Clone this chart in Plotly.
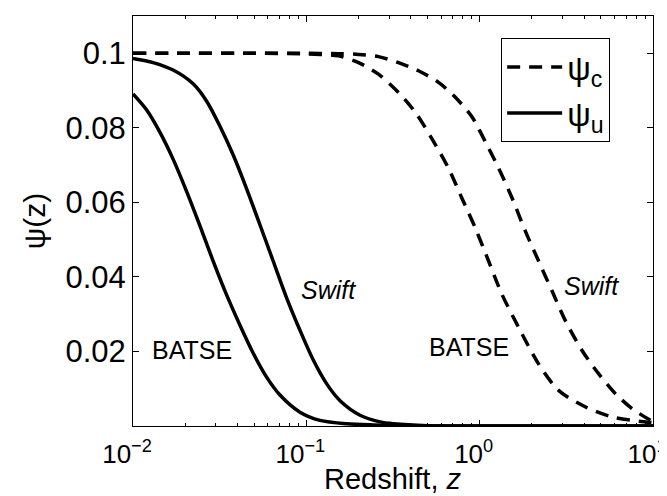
import math
import plotly.graph_objects as go

# ---- data ----
# psi_u (solid)
z_u_swift = [0.01, 0.01305, 0.01703, 0.02223, 0.02655, 0.0317, 0.03785, 0.04519, 0.05397, 0.06444,
             0.07694, 0.09188, 0.1097, 0.1311, 0.1565, 0.2042, 0.2666, 0.3186, 0.5, 1.0, 3.0, 10.0]
psi_u_swift = [0.0986, 0.0975, 0.0955, 0.0918, 0.0872, 0.0805, 0.0727, 0.0637, 0.0540, 0.0442,
               0.0344, 0.0257, 0.0177, 0.0113, 0.0068, 0.0029, 0.0011, 0.0006, 0.0001, 0.0, 0.0, 0.0]

z_u_batse = [0.01, 0.01194, 0.01426, 0.01703, 0.02032, 0.02425, 0.02896, 0.03458, 0.04136, 0.0494,
             0.05899, 0.07046, 0.0919, 0.1199, 0.1711, 0.244, 0.4, 1.0, 10.0]
psi_u_batse = [0.0891, 0.0849, 0.0789, 0.0716, 0.0631, 0.0539, 0.0443, 0.0353, 0.0271, 0.0195,
               0.0131, 0.0083, 0.0037, 0.0015, 0.0006, 0.0003, 0.0001, 0.0, 0.0]

# psi_c (dashed)
z_c_batse = [0.01, 0.02, 0.05, 0.1, 0.153, 0.2, 0.2606, 0.34, 0.425, 0.53, 0.662, 0.79, 0.944, 1.127,
             1.345, 1.68, 2.191, 2.862, 4.084, 5.82, 8.3, 10.0]
psi_c_batse = [0.1, 0.1, 0.1, 0.0998, 0.0993, 0.0975, 0.0944, 0.0895, 0.0842, 0.0771, 0.0691, 0.0611,
               0.0531, 0.0442, 0.0353, 0.0264, 0.0166, 0.0095, 0.0051, 0.0024, 0.0013, 0.0009]

z_c_swift = [0.01, 0.02, 0.05, 0.1, 0.153, 0.2, 0.2606, 0.34, 0.4436, 0.579, 0.724, 0.904, 1.08, 1.289,
             1.54, 1.837, 2.191, 2.617, 3.126, 3.905, 4.877, 6.087, 7.6, 10.0]
psi_c_swift = [0.1, 0.1, 0.1, 0.1, 0.0999, 0.0997, 0.0991, 0.0975, 0.0953, 0.0922, 0.0882, 0.0829,
               0.0762, 0.0691, 0.0611, 0.0522, 0.0442, 0.0362, 0.0282, 0.0202, 0.0139, 0.0086, 0.0046, 0.0011]

x_tickvals = [0.01, 0.1, 1, 10]
x_ticktext = ["10<sup>\u22122</sup>", "10<sup>\u22121</sup>", "10<sup>0</sup>", "10<sup>1</sup>"]
x_minor = [m * d for d in (0.01, 0.1, 1) for m in range(2, 10)]
y_tickvals = [0.02, 0.04, 0.06, 0.08, 0.1]
y_ticktext = ["0.02", "0.04", "0.06", "0.08", "0.1"]

labels = [
    ("BATSE", 0.022, 0.0203, False),
    ("Swift", 0.134, 0.0365, True),
    ("BATSE", 0.863, 0.0211, False),
    ("Swift", 4.44, 0.0376, True),
]

FONT = "Liberation Sans, Arial, Helvetica, sans-serif"
dash_style = "13px,9px"
LW = 3.5

fig = go.Figure()
fig.add_trace(go.Scatter(x=z_c_swift, y=psi_c_swift, mode="lines", name="\u03c8<sub>c</sub>",
                         line=dict(color="black", width=LW, dash=dash_style, shape="spline", smoothing=0.8),
                         legendgroup="c", showlegend=True))
fig.add_trace(go.Scatter(x=z_c_batse, y=psi_c_batse, mode="lines", name="\u03c8<sub>c</sub>",
                         line=dict(color="black", width=LW, dash=dash_style, shape="spline", smoothing=0.8),
                         legendgroup="c", showlegend=False))
fig.add_trace(go.Scatter(x=z_u_swift, y=psi_u_swift, mode="lines", name="\u03c8<sub>u</sub>",
                         line=dict(color="black", width=LW, shape="spline", smoothing=0.8),
                         legendgroup="u", showlegend=True))
fig.add_trace(go.Scatter(x=z_u_batse, y=psi_u_batse, mode="lines", name="\u03c8<sub>u</sub>",
                         line=dict(color="black", width=LW, shape="spline", smoothing=0.8),
                         legendgroup="u", showlegend=False))

for text, zx, yy, ital in labels:
    fig.add_annotation(x=math.log10(zx), y=yy, xref="x", yref="y",
                       text=f"<i>{text}</i>" if ital else text, showarrow=False,
                       font=dict(family=FONT, size=25, color="black"))

# x-axis title placed as paper annotation so it sits inside the canvas
fig.add_annotation(x=0.5, y=-0.129, xref="paper", yref="paper", xanchor="center", yanchor="middle",
                   text="Redshift, <i>z</i>", showarrow=False,
                   font=dict(family=FONT, size=29, color="black"))

fig.update_layout(
    width=667, height=496,
    margin=dict(l=125, r=22, t=8, b=78),
    paper_bgcolor="white", plot_bgcolor="white",
    font=dict(family=FONT, size=28, color="black"),
    showlegend=True,
    legend=dict(x=0.708, y=0.946, xanchor="left", yanchor="top",
                bordercolor="black", borderwidth=1, bgcolor="white", itemwidth=55,
                tracegroupgap=0,
                font=dict(family=FONT, size=33, color="black")),
    xaxis=dict(type="log", range=[-2, 1], tickmode="array", tickvals=x_tickvals, ticktext=x_ticktext,
               tickfont=dict(family=FONT, size=26, color="black"), ticklabelstandoff=5,
               ticklabelshift=-6, automargin=False,
               ticks="inside", ticklen=6, tickcolor="black", showline=True, linecolor="black",
               linewidth=1, mirror="ticks", showgrid=False, zeroline=False,
               minor=dict(tickmode="array", tickvals=x_minor, ticks="inside", ticklen=3,
                          tickcolor="black", showgrid=False)),
    yaxis=dict(range=[0, 0.11], tickmode="array", tickvals=y_tickvals, ticktext=y_ticktext,
               tickfont=dict(family=FONT, size=31, color="black"), automargin=False,
               ticks="inside", ticklen=6, tickcolor="black", showline=True, linecolor="black",
               linewidth=1, mirror="ticks", showgrid=False, zeroline=False,
               title=dict(text="\u03c8(z)", font=dict(family=FONT, size=30), standoff=10)),
)

fig.write_html("out.html")
